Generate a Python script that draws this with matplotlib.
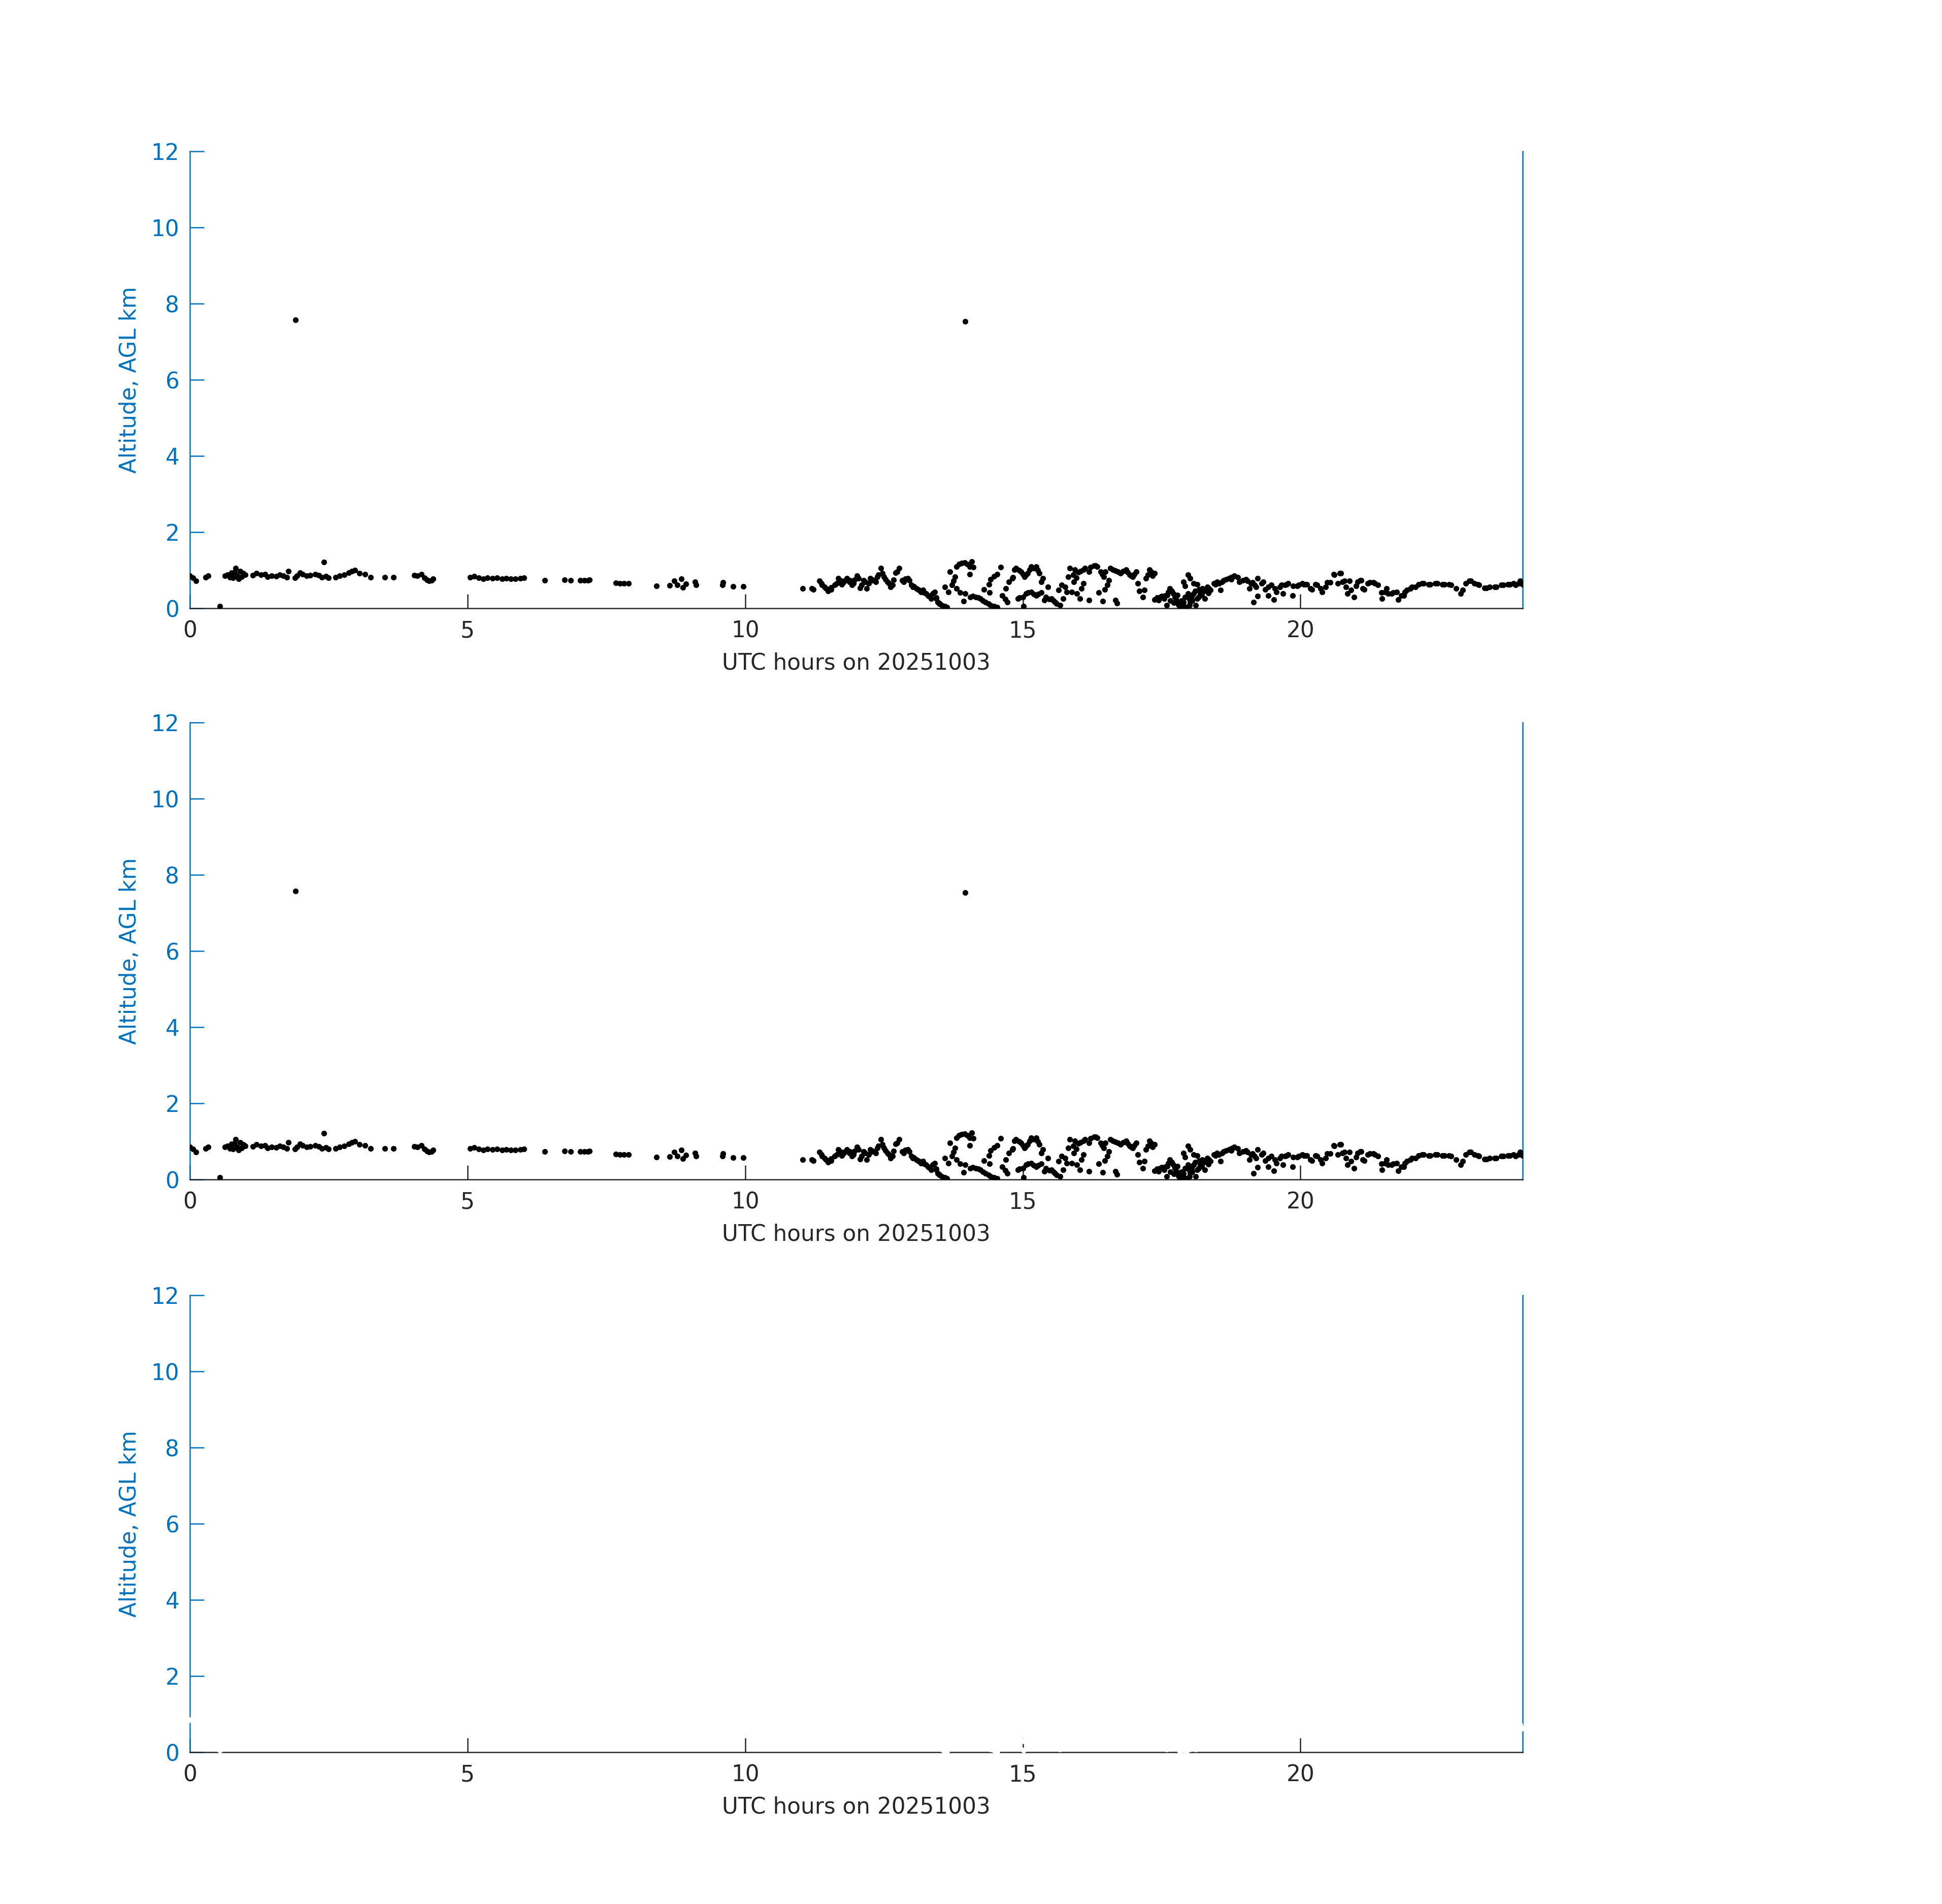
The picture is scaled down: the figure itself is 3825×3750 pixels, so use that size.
import matplotlib
matplotlib.use("Agg")
import matplotlib.pyplot as plt
import numpy as np

# ---------------- data (UTC hours, altitude AGL km) ----------------
hours_early = [0.00, 0.05, 0.11, 0.28, 0.33, 0.54,
               0.63, 0.68, 0.72, 0.75, 0.78, 0.80, 0.82, 0.85, 0.88, 0.90, 0.93, 0.96, 1.00,
               1.13, 1.20, 1.28, 1.35, 1.40, 1.47, 1.55, 1.62, 1.68, 1.75, 1.77,
               1.89, 1.93, 1.98, 2.03, 2.10, 2.17,
               2.26, 2.32, 2.38, 2.41, 2.45, 2.50,
               2.62, 2.70, 2.78, 2.86, 2.92, 2.97, 3.05, 3.15, 3.25,
               3.51, 3.67]
alt_early = [0.85, 0.80, 0.72, 0.82, 0.86, 0.05,
             0.86, 0.88, 0.82, 0.93, 0.80, 0.95, 1.05, 0.85, 0.78, 0.97, 0.83, 0.92, 0.88,
             0.87, 0.92, 0.88, 0.90, 0.83, 0.86, 0.84, 0.88, 0.85, 0.82, 0.98,
             0.80, 0.86, 0.93, 0.89, 0.85, 0.87,
             0.90, 0.87, 0.82, 1.21, 0.84, 0.80,
             0.82, 0.86, 0.88, 0.93, 0.98, 1.00, 0.92, 0.90, 0.82,
             0.81, 0.81]

hours_morning = [4.04, 4.10, 4.17, 4.22, 4.27, 4.31, 4.35, 4.38,
                 5.05, 5.12, 5.20, 5.28, 5.36, 5.45, 5.53, 5.62, 5.70, 5.78, 5.86, 5.95, 6.02,
                 6.39, 6.75, 6.86, 7.03, 7.10, 7.17, 7.20,
                 7.67, 7.74, 7.82, 7.90,
                 8.40, 8.64, 8.72, 8.78, 8.85, 8.88, 8.93, 9.10, 9.12,
                 9.59, 9.60, 9.78, 9.97, 11.04, 11.20, 11.23]
alt_morning = [0.87, 0.85, 0.90, 0.80, 0.75, 0.72, 0.74, 0.78,
               0.82, 0.84, 0.80, 0.78, 0.80, 0.79, 0.80, 0.78, 0.79, 0.77, 0.78, 0.79, 0.80,
               0.74, 0.75, 0.74, 0.73, 0.74, 0.73, 0.75,
               0.67, 0.65, 0.66, 0.66,
               0.59, 0.60, 0.72, 0.62, 0.78, 0.55, 0.64, 0.70, 0.62,
               0.62, 0.68, 0.58, 0.58, 0.52, 0.52, 0.50]

hours_midday = [11.34, 11.38, 11.43, 11.49, 11.55, 11.61, 11.68, 11.74, 11.79, 11.83, 11.88, 11.92,
                11.97, 12.01, 12.07, 12.13, 12.19, 12.25, 12.30, 12.35, 12.40, 12.44, 12.50,
                12.56, 12.62, 12.67, 12.71, 12.77, 12.83, 12.88, 12.93, 12.99, 13.04, 13.08,
                13.13, 13.17, 13.22, 13.26, 13.30, 13.35, 13.41, 13.44, 13.47, 13.50, 13.54,
                13.58, 13.63, 13.60, 13.66, 13.72, 13.75, 13.78, 13.69, 13.81, 13.85, 13.90,
                13.95, 14.00, 14.04, 14.08, 14.11, 14.04, 13.81, 13.87, 13.93, 13.96, 14.05,
                14.10, 14.15, 14.20, 14.24, 14.28, 14.33, 14.38, 14.42, 14.48, 14.54, 14.30,
                14.40, 14.39, 14.42, 14.48, 14.54, 14.60, 14.63, 14.68, 14.72, 14.69, 14.75,
                14.82, 14.85,
                11.37, 11.46, 11.55, 11.65, 11.71, 11.77, 11.89, 11.95, 12.04, 12.10,
                12.16, 12.22, 12.29, 12.38, 12.47, 12.53, 12.59, 12.65, 12.74, 12.86,
                12.96, 13.02, 13.11, 13.20, 13.29, 13.38, 13.44, 13.50, 13.57, 13.60]
alt_midday = [0.72, 0.62, 0.56, 0.45, 0.55, 0.61, 0.79, 0.63, 0.72, 0.79, 0.70, 0.61,
              0.75, 0.85, 0.54, 0.74, 0.52, 0.79, 0.75, 0.70, 0.88, 1.05, 0.83,
              0.70, 0.56, 0.75, 0.94, 1.05, 0.74, 0.78, 0.79, 0.61, 0.58, 0.52,
              0.48, 0.43, 0.42, 0.39, 0.32, 0.25, 0.43, 0.28, 0.16, 0.12, 0.08,
              0.05, 0.03, 0.56, 0.43, 0.61, 0.72, 0.83, 0.96, 1.10, 1.16, 1.19,
              1.20, 1.16, 1.10, 1.23, 1.08, 0.90, 0.52, 0.41, 0.19, 0.39, 0.30,
              0.32, 0.30, 0.28, 0.25, 0.20, 0.16, 0.12, 0.08, 0.05, 0.03, 0.50,
              0.41, 0.63, 0.76, 0.84, 0.90, 1.08, 0.34, 0.24, 0.16, 0.52, 0.70,
              0.81, 1.01,
              0.65, 0.52, 0.50, 0.65, 0.74, 0.68, 0.74, 0.65, 0.79, 0.61,
              0.70, 0.65, 0.74, 0.83, 0.92, 0.76, 0.65, 0.61, 0.96, 0.70,
              0.74, 0.56, 0.50, 0.48, 0.34, 0.39, 0.25, 0.14, 0.05, 0.05]

hours_afternoon = [14.81, 14.88, 14.97, 15.03, 15.09, 15.15, 15.24, 15.30, 15.36, 15.33,
                   14.91, 15.00, 15.01, 15.06, 15.15, 15.24, 15.33, 15.39, 15.45, 15.52,
                   15.58, 15.64, 15.70, 15.67, 15.73, 15.79, 15.76, 15.82, 15.85, 15.94,
                   15.91, 15.88, 15.97, 16.03, 16.06, 16.09, 16.19, 16.37, 16.44, 16.09,
                   16.19, 16.28, 16.34, 16.40, 16.46, 16.49, 16.55, 16.52, 16.48, 16.58,
                   16.67, 16.76, 16.86, 16.92, 16.98, 17.04, 17.07, 17.22, 17.28, 17.37,
                   16.67, 16.70, 17.10, 17.16, 17.19, 17.37, 17.47, 17.56, 17.62, 17.65,
                   17.71, 17.59, 17.77, 17.83, 17.89, 17.92, 17.98, 17.95, 18.01, 18.08,
                   18.14, 18.11, 18.20, 18.23, 18.32, 18.38, 18.44, 18.50, 18.56, 18.62,
                   18.72, 18.78, 17.89, 17.98, 18.01, 18.08, 18.14, 17.92,
                   16.12, 16.22, 16.31, 16.43, 16.62, 16.71, 16.81, 16.89, 16.95, 17.01,
                   17.25, 17.31, 17.34, 14.94, 15.10, 15.20, 15.28, 15.42, 15.48, 15.55,
                   15.61, 14.93, 15.00, 15.06, 15.12, 15.20, 15.27, 17.42, 17.50, 17.53,
                   17.68, 17.74, 17.80, 17.86, 17.99, 18.04, 18.17, 18.26, 18.29, 18.35,
                   18.47, 18.53, 18.59, 18.66, 18.75,
                   17.45, 17.55, 17.60, 17.66, 17.72, 17.78, 17.82, 17.90, 18.00, 18.05,
                   18.10, 18.18, 18.22, 18.28, 18.34, 15.92, 15.96, 16.00, 16.04]
alt_afternoon = [0.79, 1.05, 0.96, 0.83, 0.92, 1.10, 1.10, 0.92, 0.79, 0.70,
                 0.25, 0.30, 0.05, 0.39, 0.43, 0.34, 0.41, 0.21, 0.56, 0.25,
                 0.16, 0.48, 0.61, 0.08, 0.25, 0.43, 0.56, 0.83, 1.05, 1.01,
                 0.88, 0.43, 0.39, 0.25, 0.52, 0.65, 0.21, 0.41, 0.19, 1.01,
                 0.96, 1.12, 1.10, 0.96, 0.83, 0.96, 0.74, 0.61, 0.50, 1.05,
                 0.99, 0.92, 1.01, 0.88, 0.83, 0.96, 0.65, 0.79, 1.01, 0.92,
                 0.21, 0.14, 0.45, 0.30, 0.48, 0.23, 0.30, 0.34, 0.43, 0.52,
                 0.39, 0.08, 0.21, 0.03, 0.16, 0.30, 0.39, 0.03, 0.16, 0.39,
                 0.25, 0.08, 0.39, 0.52, 0.56, 0.48, 0.65, 0.70, 0.48, 0.74,
                 0.79, 0.83, 0.70, 0.88, 0.79, 0.65, 0.63, 0.59,
                 1.05, 1.08, 1.12, 0.90, 1.02, 0.96, 0.98, 0.95, 0.85, 0.90,
                 0.88, 0.96, 0.85, 0.28, 0.41, 0.38, 0.37, 0.30, 0.24, 0.20,
                 0.12, 1.00, 0.90, 0.88, 1.02, 1.05, 1.00, 0.28, 0.32, 0.30,
                 0.45, 0.30, 0.10, 0.20, 0.25, 0.30, 0.30, 0.45, 0.50, 0.52,
                 0.63, 0.65, 0.70, 0.76, 0.81,
                 0.22, 0.25, 0.35, 0.20, 0.15, 0.35, 0.12, 0.05, 0.08, 0.20,
                 0.45, 0.50, 0.35, 0.25, 0.40, 0.70, 0.80, 0.95, 0.98]

hours_evening = [18.72, 18.81, 18.90, 19.02, 19.11, 19.08, 19.17, 19.23, 19.33, 19.37,
                 19.42, 19.48, 19.52, 19.57, 19.63, 19.69, 19.72, 19.78, 19.86, 19.94,
                 20.03, 20.12, 20.21, 20.30, 20.39, 20.48, 20.61, 20.67, 20.73, 20.76,
                 20.82, 20.85, 20.91, 20.97, 20.88, 21.03, 21.09, 21.15, 21.25, 21.34,
                 21.40, 21.46, 21.47, 21.55, 21.64, 21.73, 21.76, 21.86, 21.92, 22.01,
                 22.13, 22.22, 22.34, 22.47, 22.59, 22.71, 19.16, 19.23,
                 22.80, 22.89, 22.98, 23.07, 23.20, 23.35, 23.50, 23.65, 23.77, 23.87,
                 23.96, 24.00,
                 18.75, 18.87, 18.96, 19.05, 19.14, 19.20, 19.30, 19.42, 19.54, 19.66,
                 19.75, 19.87, 19.97, 20.06, 20.09, 20.18, 20.27, 20.36, 20.45, 20.54,
                 20.60, 20.71, 20.79, 21.00, 21.08, 21.12, 21.21, 21.31, 21.52, 21.58,
                 21.67, 21.82, 21.88, 21.98, 22.07, 22.19, 22.31, 22.43, 22.56, 22.68,
                 22.92, 23.04, 23.13, 23.22, 23.32, 23.41, 23.53, 23.62, 23.74, 23.84,
                 23.93]
alt_evening = [0.79, 0.85, 0.70, 0.76, 0.65, 0.52, 0.61, 0.79, 0.70, 0.50,
               0.34, 0.61, 0.23, 0.43, 0.56, 0.39, 0.61, 0.65, 0.34, 0.59,
               0.65, 0.63, 0.50, 0.61, 0.43, 0.68, 0.88, 0.65, 0.92, 0.70,
               0.56, 0.39, 0.48, 0.30, 0.72, 0.70, 0.74, 0.50, 0.68, 0.65,
               0.61, 0.41, 0.25, 0.52, 0.39, 0.43, 0.23, 0.34, 0.48, 0.56,
               0.63, 0.65, 0.63, 0.65, 0.63, 0.61, 0.16, 0.32,
               0.52, 0.39, 0.65, 0.72, 0.63, 0.54, 0.56, 0.61, 0.63, 0.61,
               0.72, 0.63,
               0.76, 0.81, 0.74, 0.72, 0.68, 0.56, 0.65, 0.56, 0.52, 0.61,
               0.63, 0.59, 0.61, 0.63, 0.63, 0.52, 0.63, 0.52, 0.56, 0.68,
               0.90, 0.92, 0.72, 0.59, 0.74, 0.52, 0.65, 0.68, 0.43, 0.39,
               0.41, 0.34, 0.43, 0.52, 0.56, 0.65, 0.63, 0.65, 0.63, 0.63,
               0.48, 0.72, 0.65, 0.61, 0.54, 0.56, 0.56, 0.61, 0.63, 0.65,
               0.65]

hours_high = [1.90, 13.96]
alt_high = [7.58, 7.53]

x_ticks = [0, 5, 10, 15, 20]
y_ticks = [0, 2, 4, 6, 8, 10, 12]
x_label = "UTC hours on 20251003"
y_label = "Altitude, AGL km"

hours = np.concatenate([hours_early, hours_morning, hours_midday, hours_afternoon,
                        hours_evening, hours_high])
alt = np.concatenate([alt_early, alt_morning, alt_midday, alt_afternoon,
                      alt_evening, alt_high])

# ---------------- figure ----------------
BLUE = "#0072BD"
DARK = "#262626"
FS = 10.5
plt.rcParams["font.family"] = "DejaVu Sans"
plt.rcParams["font.size"] = FS

fig = plt.figure(figsize=(12.75, 12.5), dpi=300)
left, width, height = 0.0978, 0.6862, 0.24
bottoms = [0.6805, 0.3805, 0.0797]
colors = ["black", "black", "white"]

for b, c in zip(bottoms, colors):
    ax = fig.add_axes([left, b, width, height])
    ax.plot(hours, alt, linestyle="none", marker="o", ms=2.7, mew=0,
            color=c, zorder=3, clip_on=(c != "white"))
    ax.set_xlim(0, 24)
    ax.set_ylim(0, 12)
    ax.set_xticks(x_ticks)
    ax.set_yticks(y_ticks)
    ax.spines["top"].set_visible(False)
    ax.spines["left"].set_color(BLUE)
    ax.spines["right"].set_color(BLUE)
    ax.spines["bottom"].set_color(DARK)
    for s in ax.spines.values():
        s.set_linewidth(0.6)
    ax.tick_params(axis="x", direction="in", length=6.7, width=0.6, colors=DARK,
                   labelcolor=DARK, pad=5.5, labelsize=FS)
    ax.tick_params(axis="y", direction="in", length=6.7, width=0.6, colors=BLUE,
                   labelcolor=BLUE, pad=5, labelsize=FS, right=False)
    ax.set_xlabel(x_label, color=DARK, fontsize=FS, labelpad=5)
    ax.set_ylabel(y_label, color=BLUE, fontsize=FS, labelpad=5)

fig.savefig("out.png", dpi=300)
